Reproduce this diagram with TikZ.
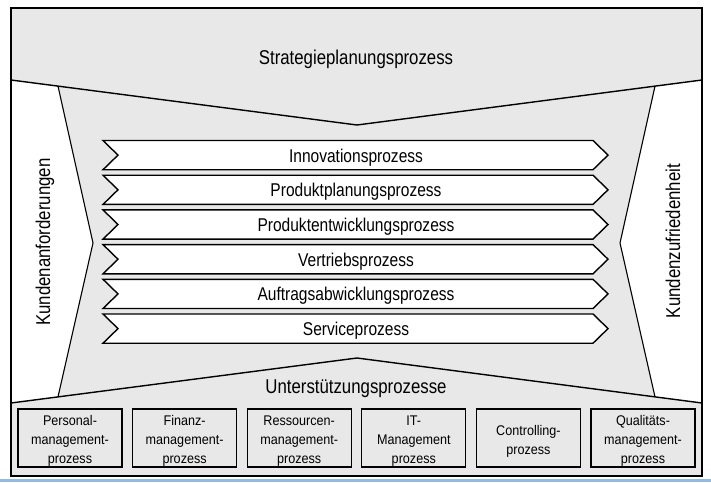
\documentclass[tikz,border=0pt]{standalone}
\usepackage{fontspec}
\setmainfont{Liberation Sans}[FakeStretch=0.84]
\newfontfamily\boxfont{Liberation Sans}[FakeStretch=0.9]
\definecolor{bandgray}{RGB}{232,232,232}
\definecolor{edgeblue}{RGB}{150,185,225}
\tikzset{
  frameline/.style={draw=black, line width=1.8pt},
  bandline/.style={draw=black, line width=1.4pt},
  sideline/.style={draw=black, line width=1.1pt},
  procarrow/.style={draw=black, fill=white, line width=1.4pt, line join=miter},
  bigtext/.style={font=\fontsize{20}{24}\selectfont, inner sep=0pt},
  proctext/.style={font=\fontsize{18.5}{22}\selectfont, inner sep=0pt, anchor=base},
  supbox/.style={draw=black, fill=bandgray, line width=1.3pt, minimum width=104pt, minimum height=58pt, inner sep=0pt},
  suptext/.style={align=center, inner sep=0pt, font=\boxfont\fontsize{14}{19}\selectfont}
}
\begin{document}
\begin{tikzpicture}[x=1pt,y=-1pt]
\useasboundingbox (0,0) rectangle (711,482);
\fill[white] (0,0) rectangle (711,482);
\fill[edgeblue] (0,478.8) rectangle (711,481.5);
% gray area
\fill[bandgray] (11,8) -- (702,8) -- (702,80) -- (655,86.1) -- (620,243) -- (655,396.9) -- (702,403) -- (702,476) -- (11,476) -- (11,403) -- (58,396.9) -- (93,243) -- (58,86.1) -- (11,80) -- cycle;
% band boundaries
\draw[bandline] (11,80) -- (357,125) -- (702,80);
\draw[bandline] (11,403) -- (357,358) -- (702,403);
\draw[sideline] (58,86.1) -- (93,243) -- (58,396.9);
\draw[sideline] (655,86.1) -- (620,243) -- (655,396.9);
% outer frame
\draw[frameline] (11,8) rectangle (702,476);
% labels
\node[bigtext, anchor=base] (strat) at (356,64) {Strategieplanungsprozess};
\node[bigtext, anchor=base] (unterst) at (356,393) {Unterstützungsprozesse};
\node[bigtext, anchor=base, rotate=90] (kanf) at (50,242) {Kundenanforderungen};
\node[bigtext, anchor=base, rotate=90] (kzuf) at (680,241) {Kundenzufriedenheit};
% process arrows
\foreach \i/\t in {0/Innovationsprozess, 1/Produktplanungsprozess, 2/Produktentwicklungsprozess, 3/Vertriebsprozess, 4/Auftragsabwicklungsprozess, 5/Serviceprozess} {
  \pgfmathsetmacro\tp{140.5+34.7*\i}
  \draw[procarrow] (103,\tp) -- (593,\tp) -- (608,\tp+14.6) -- (593,\tp+29.2) -- (103,\tp+29.2) -- (118,\tp+14.6) -- cycle;
  \node[proctext] (proc\i) at (356,\tp+21.5) {\t};
}
% support boxes
\foreach \i/\x/\t in {1/70/{Personal-\\management-\\prozess}, 2/184.6/{Finanz-\\management-\\prozess}, 3/299.2/{Ressourcen-\\management-\\prozess}, 4/413.8/{IT-\\Management\\prozess}, 5/528.4/{Controlling-\\prozess}, 6/643/{Qualitäts-\\management-\\prozess}} {
  \node[supbox] (b\i) at (\x,438) {};
  \node[suptext] (t\i) at (\x,441) {\t};
}
\end{tikzpicture}
\end{document}
